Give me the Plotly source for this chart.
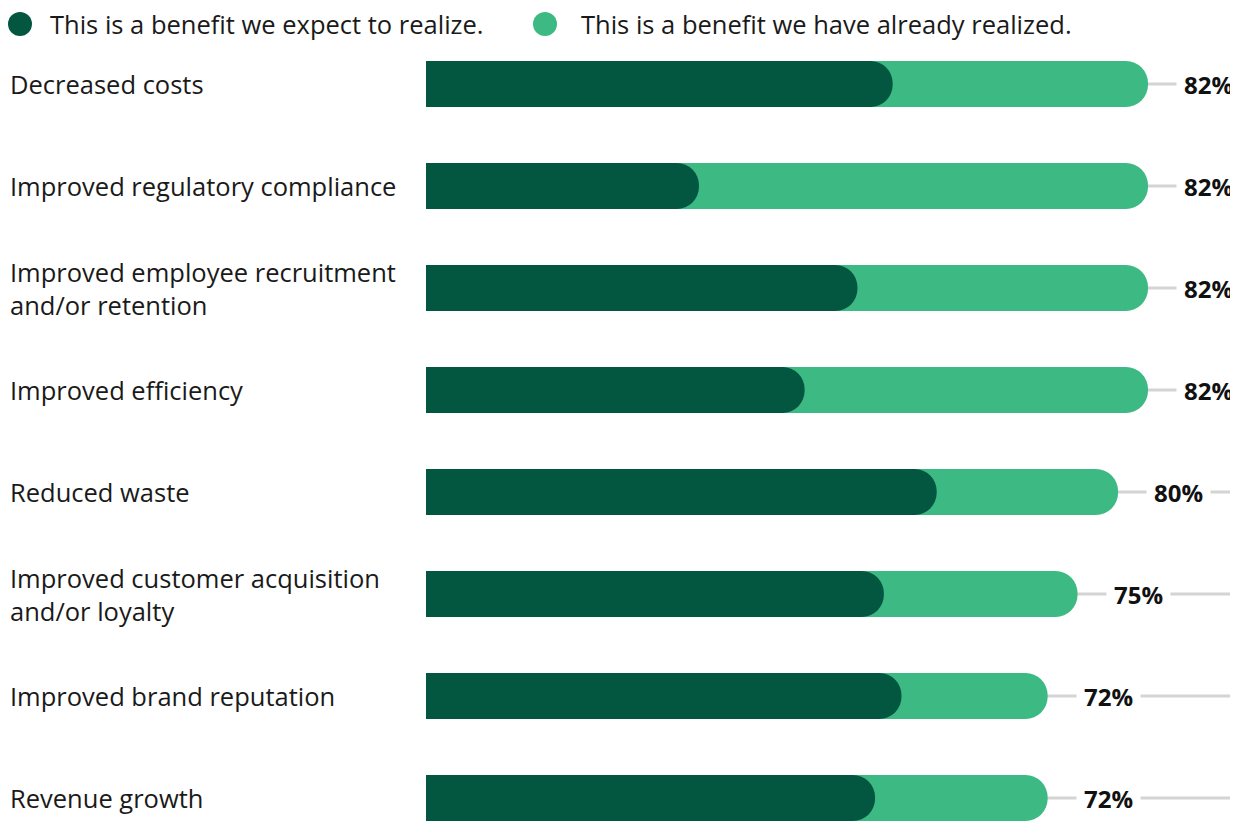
import plotly.graph_objects as go

categories = [
    "Decreased costs",
    "Improved regulatory compliance",
    "Improved employee recruitment<br>and/or retention",
    "Improved efficiency",
    "Reduced waste",
    "Improved customer acquisition<br>and/or loyalty",
    "Improved brand reputation",
    "Revenue growth",
]
expect_vals = [53, 31, 49, 43, 58, 52, 54, 51]
realized_vals = [29, 51, 33, 39, 20.6, 22, 16.6, 19.6]
total_labels = ["82%", "82%", "82%", "82%", "80%", "75%", "72%", "72%"]
series_names = ["This is a benefit we expect to realize.",
                "This is a benefit we have already realized."]

DARK = "#035740"
LIGHT = "#3DB984"
LINE = "#D4D4D4"
FONT = "Open Sans"
TXT = 25.5

totals = [e + r for e, r in zip(expect_vals, realized_vals)]
XMAX = 92.22

# page body has an 8px margin: figure is drawn 8px right/down in the window
W, H = 1230, 813
ML, MR, MT, MB = 418, 0, 25, 0
PW, PH = W - ML - MR, H - MT - MB
ROW = 102  # px per category row

def px(x):
    return (x - ML) / PW

def py(y):
    return (H - MB - y) / PH

fig = go.Figure()
fig.add_trace(go.Bar(
    y=categories, x=totals, orientation="h", name=series_names[1],
    marker=dict(color=LIGHT, cornerradius="50%", line=dict(width=0)),
    width=0.45, showlegend=False, hoverinfo="skip", yaxis="y",
))
fig.add_trace(go.Bar(
    y=categories, x=expect_vals, orientation="h", name=series_names[0],
    marker=dict(color=DARK, cornerradius="50%", line=dict(width=0)),
    width=0.45, showlegend=False, hoverinfo="skip", yaxis="y2",
))

shapes = []
annotations = []
for cat, tot, lab in zip(categories, totals, total_labels):
    shapes.append(dict(type="line", xref="x", yref="y", x0=0, x1=XMAX,
                       y0=cat, y1=cat, layer="below",
                       line=dict(color=LINE, width=3)))
    annotations.append(dict(x=tot, y=cat, xref="x", yref="y", text=f"<b>{lab}</b>",
                            showarrow=False, xanchor="left", yanchor="middle",
                            xshift=28, bgcolor="white", borderpad=7,
                            font=dict(family=FONT, size=24, color="#111111")))
    annotations.append(dict(x=px(0), y=cat, xref="paper", yref="y", text=cat,
                            showarrow=False, xanchor="left", yanchor="middle",
                            align="left",
                            font=dict(family=FONT, size=TXT, color="#1a1a1a")))

# legend (custom, circle markers)
LEG_Y = 16
legend_items = [(12, 40, DARK, series_names[0]), (537, 571, LIGHT, series_names[1])]
for cx, tx, col, name in legend_items:
    shapes.append(dict(type="circle", xref="paper", yref="paper",
                       x0=px(cx - 12), x1=px(cx + 12),
                       y0=py(LEG_Y + 12), y1=py(LEG_Y - 12),
                       fillcolor=col, line=dict(width=0)))
    annotations.append(dict(x=px(tx), y=py(LEG_Y), xref="paper", yref="paper",
                            text=name, showarrow=False, xanchor="left",
                            yanchor="middle",
                            font=dict(family=FONT, size=TXT, color="#1a1a1a")))

yr = [PH / ROW - 0.5, -0.5]
fig.update_layout(
    width=W, height=H,
    margin=dict(l=ML, r=MR, t=MT, b=MB),
    barmode="overlay",
    plot_bgcolor="white", paper_bgcolor="white",
    xaxis=dict(range=[0, XMAX], visible=False),
    yaxis=dict(range=yr, visible=False, type="category",
               categoryorder="array", categoryarray=categories),
    yaxis2=dict(range=yr, visible=False, type="category", overlaying="y",
                categoryorder="array", categoryarray=categories),
    shapes=shapes, annotations=annotations,
    showlegend=False,
)

fig.write_html("out.html")
